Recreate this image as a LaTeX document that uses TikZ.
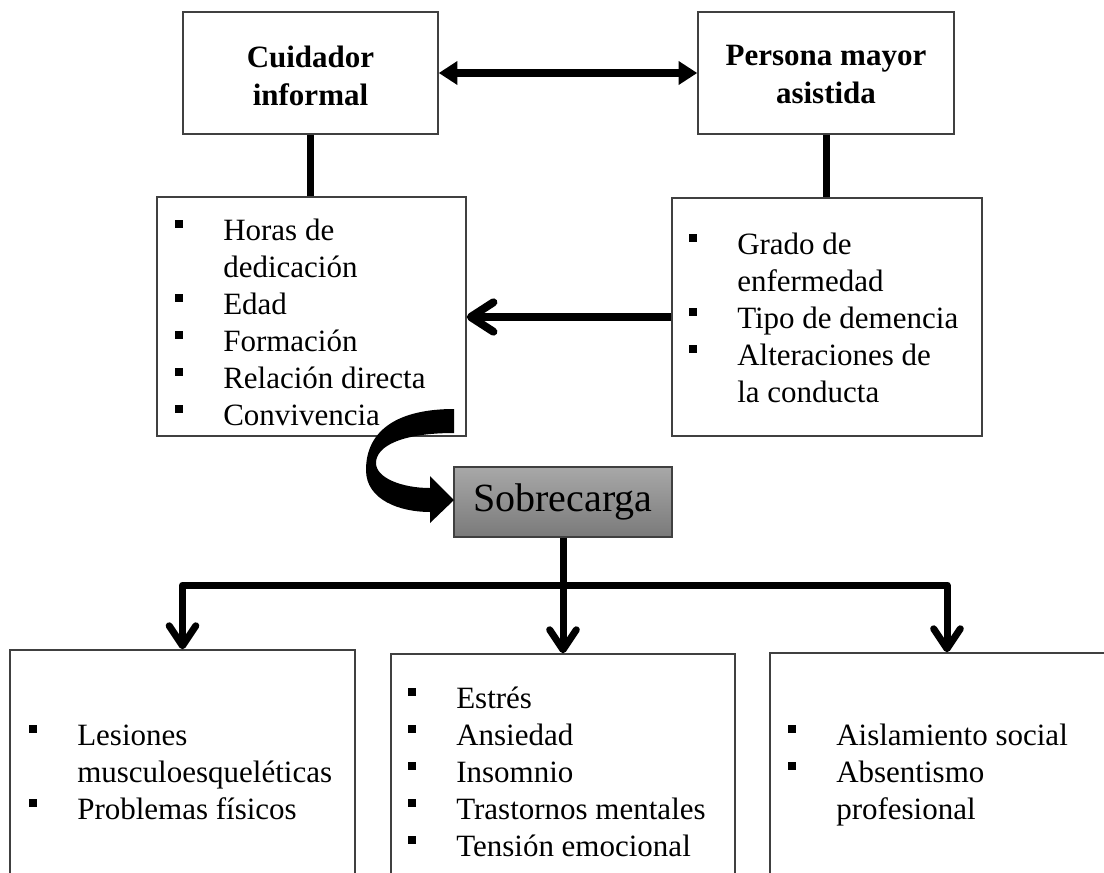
\documentclass[tikz,border=0pt]{standalone}
\usepackage{fontspec}
\setmainfont{Liberation Serif}
\usetikzlibrary{arrows.meta,fit}
\definecolor{boxc}{HTML}{404040}
\definecolor{sobtop}{HTML}{A8A8A8}
\definecolor{sobbot}{HTML}{7A7A7A}
\newcommand\bulsq{\rule[9pt]{6pt}{6pt}}
\newcommand\bodyfont{\fontsize{23.25pt}{27.75pt}\selectfont}
\newcommand\titlefont{\fontsize{23.25pt}{28.5pt}\selectfont\bfseries}
\tikzset{
  box/.style={draw=boxc,line width=1.1pt,fill=white,inner sep=0pt},
  title/.style={font=\titlefont,align=center,inner sep=0pt},
  listtxt/.style={anchor=base west,inner sep=0pt,font=\bodyfont},
  conn/.style={line width=5.25pt,draw=black,line join=round},
  barb/.tip={Straight Barb[length=15pt,width=20pt,round]},
  bigbarb/.tip={Straight Barb[length=17pt,width=22pt,round]},
  tri/.tip={Triangle[length=14pt,width=17pt]}
}
\begin{document}
\begin{tikzpicture}[x=0.75pt,y=-0.75pt]
\useasboundingbox (0,0) rectangle (1104,872);
\clip (0,0) rectangle (1104,872);
\fill[white] (0,0) rectangle (1104,872);

% top boxes
\node[box,fit={(183,12)(438,134)}] (cuid) {};
\node[title] (cuidt) at (310.5,76) {Cuidador\\informal};
\node[box,fit={(698,12)(954,134)}] (pers) {};
\node[title] (perst) at (826,74) {Persona mayor\\asistida};

% list boxes
\node[box,fit={(157,197)(466,436)}] (lbox) {};
\node[box,fit={(672,198)(982,436)}] (rbox) {};
\node[listtxt] (ltxt) at (175,240) {\begin{tabular}[t]{@{}p{36pt}@{}l@{}}
\bulsq & Horas de\\
       & dedicación\\
\bulsq & Edad\\
\bulsq & Formación\\
\bulsq & Relación directa\\
\bulsq & Convivencia
\end{tabular}};
\node[listtxt] (rtxt) at (689,254) {\begin{tabular}[t]{@{}p{36pt}@{}l@{}}
\bulsq & Grado de\\
       & enfermedad\\
\bulsq & Tipo de demencia\\
\bulsq & Alteraciones de\\
       & la conducta
\end{tabular}};

% sobrecarga
\node[draw=boxc,line width=1.1pt,inner sep=0pt,top color=sobtop,bottom color=sobbot,
      fit={(454,467)(672,537)}] (sob) {};
\node[font=\fontsize{30pt}{36pt}\selectfont,inner sep=0pt] (sobt) at (sob.center) {Sobrecarga};

% bottom boxes
\node[box,fit={(10,650)(355,900)}] (lb) {};
\node[box,fit={(391,654)(735,900)}] (mb) {};
\node[box,fit={(770,653)(1120,900)}] (rb) {};
\node[listtxt] (lbt) at (29,745) {\begin{tabular}[t]{@{}p{36pt}@{}l@{}}
\bulsq & Lesiones\\
       & musculoesqueléticas\\
\bulsq & Problemas físicos
\end{tabular}};
\node[listtxt] (mbt) at (408,708) {\begin{tabular}[t]{@{}p{36pt}@{}l@{}}
\bulsq & Estrés\\
\bulsq & Ansiedad\\
\bulsq & Insomnio\\
\bulsq & Trastornos mentales\\
\bulsq & Tensión emocional
\end{tabular}};
\node[listtxt] (rbt) at (788,745) {\begin{tabular}[t]{@{}p{36pt}@{}l@{}}
\bulsq & Aislamiento social\\
\bulsq & Absentismo\\
       & profesional
\end{tabular}};

% connectors
\draw[conn,line width=6pt,{tri}-{tri}] (cuid.east) -- (pers.west);
\draw[conn] (cuid.south) -- (cuid.south |- lbox.north);
\draw[conn] (pers.south) -- (pers.south |- rbox.north);
\draw[conn,line width=6pt,-{bigbarb}] (rbox.west) -- (rbox.west -| lbox.east);

% curved arrow
\fill[black] (454,409) .. controls (398,409) and (366,430) .. (366,470)
  .. controls (366,500) and (400,512) .. (430,512) -- (430,523) -- (454,500)
  -- (430,476) -- (430,488) .. controls (402,488) and (376,478) .. (376,463)
  .. controls (376,446) and (402,433) .. (454,433) -- cycle;

\coordinate (split) at (563,585);
\coordinate (rarr) at (947,585);
\draw[conn] (sob.south) -- (split);
\draw[conn,-{barb}] (split) -- (mb.north);
\draw[conn,-{barb}] (split) -| (lb.north);
\draw[conn,-{barb}] (split) -- (rarr) -- (rarr |- rb.north);
\end{tikzpicture}
\end{document}
